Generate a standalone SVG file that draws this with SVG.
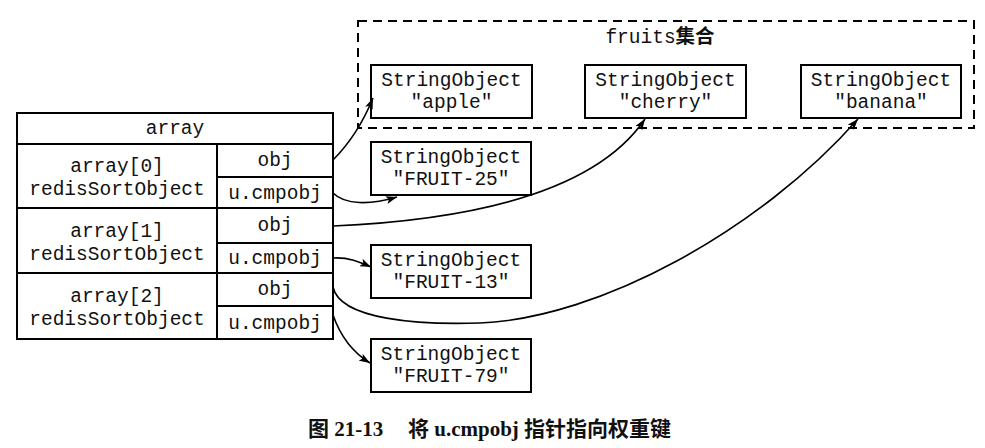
<svg xmlns="http://www.w3.org/2000/svg" width="985" height="448" viewBox="0 0 985 448">
<style>
.box{fill:#fff;stroke:#000;stroke-width:2}
.ln{stroke:#000;stroke-width:2;fill:none}
.t{font-family:"Liberation Mono","DejaVu Sans Mono",monospace;font-size:19.5px;fill:#111;text-anchor:middle}
.cjk{font-family:"Noto Sans CJK SC",sans-serif;font-weight:bold}
.conn{fill:none;stroke:#000;stroke-width:1.6}
.cap{font-family:"Liberation Serif","Noto Sans CJK SC",serif;font-weight:bold;font-size:21px;fill:#111}
</style>
<defs>
<marker id="arr" markerUnits="userSpaceOnUse" markerWidth="12" markerHeight="8" refX="11" refY="4" orient="auto">
<path d="M0,0 L11,4 L0,8 L2.5,4 z" fill="#000"/>
</marker>
</defs>

<g id="fruits-set">
<rect x="358" y="21" width="616" height="107" fill="none" stroke="#000" stroke-width="2" stroke-dasharray="9,6"/>
<text class="t" x="660" y="43">fruits<tspan class="cjk">集合</tspan></text>
</g>

<g id="so-apple">
<rect class="box" x="371" y="65" width="161" height="53"/>
<text class="t" x="451.5" y="86">StringObject</text>
<text class="t" x="451.5" y="108">"apple"</text>
</g>
<g id="so-cherry">
<rect class="box" x="585" y="65" width="161" height="53"/>
<text class="t" x="665.5" y="86">StringObject</text>
<text class="t" x="665.5" y="108">"cherry"</text>
</g>
<g id="so-banana">
<rect class="box" x="801" y="65" width="160" height="53"/>
<text class="t" x="881" y="86">StringObject</text>
<text class="t" x="881" y="108">"banana"</text>
</g>

<g id="so-fruit25">
<rect class="box" x="371" y="142" width="160" height="53"/>
<text class="t" x="451" y="163">StringObject</text>
<text class="t" x="451" y="185">"FRUIT-25"</text>
</g>
<g id="so-fruit13">
<rect class="box" x="371" y="245" width="160" height="53"/>
<text class="t" x="451" y="266">StringObject</text>
<text class="t" x="451" y="288">"FRUIT-13"</text>
</g>
<g id="so-fruit79">
<rect class="box" x="371" y="339" width="160" height="53"/>
<text class="t" x="451" y="360">StringObject</text>
<text class="t" x="451" y="382">"FRUIT-79"</text>
</g>

<g id="array">
<rect class="box" x="17" y="113" width="316" height="226"/>
<line class="ln" x1="17" y1="144" x2="333" y2="144"/>
<line class="ln" x1="17" y1="208" x2="333" y2="208"/>
<line class="ln" x1="17" y1="273" x2="333" y2="273"/>
<line class="ln" x1="217" y1="144" x2="217" y2="339"/>
<line class="ln" x1="217" y1="177" x2="333" y2="177"/>
<line class="ln" x1="217" y1="243" x2="333" y2="243"/>
<line class="ln" x1="217" y1="306" x2="333" y2="306"/>
<text class="t" x="175" y="134">array</text>
<g id="array-0">
<text class="t" x="117" y="172">array[0]</text>
<text class="t" x="117" y="195">redisSortObject</text>
<text class="t" x="275" y="166">obj</text>
<text class="t" x="275" y="199">u.cmpobj</text>
</g>
<g id="array-1">
<text class="t" x="117" y="237">array[1]</text>
<text class="t" x="117" y="260">redisSortObject</text>
<text class="t" x="275" y="231">obj</text>
<text class="t" x="275" y="264">u.cmpobj</text>
</g>
<g id="array-2">
<text class="t" x="117" y="302">array[2]</text>
<text class="t" x="117" y="325">redisSortObject</text>
<text class="t" x="275" y="295">obj</text>
<text class="t" x="275" y="329">u.cmpobj</text>
</g>
</g>

<g id="connectors">
<path class="conn" marker-end="url(#arr)" d="M333,160 C348,145 362,125 373,98"/>
<path class="conn" marker-end="url(#arr)" d="M333,193 C345,205 370,205 397,197"/>
<path class="conn" marker-end="url(#arr)" d="M333,226 Q580,215 645,119"/>
<path class="conn" marker-end="url(#arr)" d="M333,258 C348,257 360,262 371,267"/>
<path class="conn" marker-end="url(#arr)" d="M333,287 C340,320 420,325 480,323 C600,318 760,230 858,119"/>
<path class="conn" marker-end="url(#arr)" d="M333,315 C340,335 352,352 370,363"/>
</g>

<g id="caption">
<text class="cap" x="308" y="436">图 21-13</text>
<text class="cap" x="408" y="436">将 u.cmpobj 指针指向权重键</text>
</g>
</svg>
